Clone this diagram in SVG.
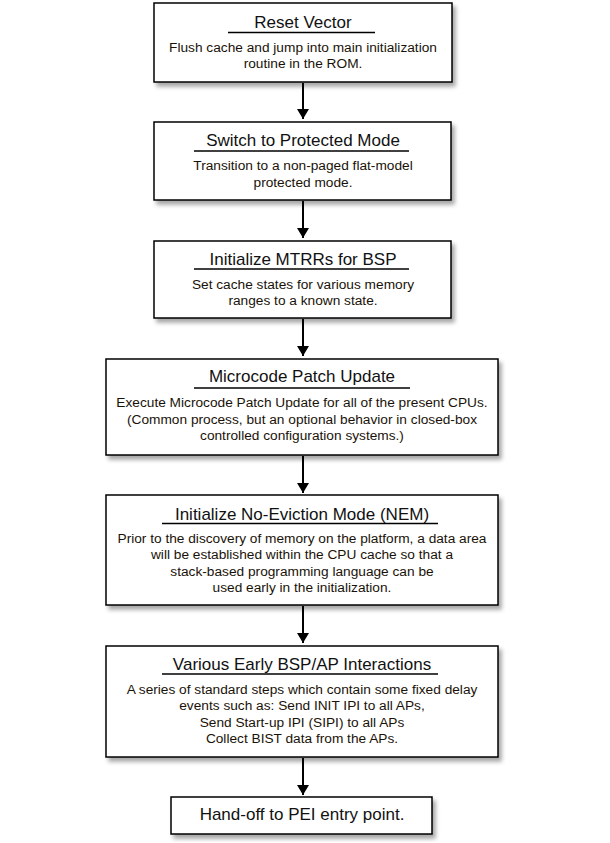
<svg xmlns="http://www.w3.org/2000/svg" width="610" height="843" viewBox="0 0 610 843">
<defs>
<filter id="sh" x="-10%" y="-20%" width="125%" height="150%">
<feDropShadow dx="3" dy="4" stdDeviation="2.2" flood-color="#000" flood-opacity="0.35"/>
</filter>
<marker id="ah" viewBox="0 0 10 12" refX="10" refY="6" markerWidth="10" markerHeight="12" markerUnits="userSpaceOnUse" orient="auto">
<path d="M0,0 L10,6 L0,12 Z" fill="#000"/>
</marker>
<style>
.box{fill:#fff;stroke:#000;stroke-width:1.5;filter:url(#sh)}
.t{font-family:"Liberation Sans",Arial,sans-serif;font-size:17px;fill:#111;text-anchor:middle}
.b{font-family:"Liberation Sans",Arial,sans-serif;font-size:13.7px;fill:#1a1208;text-anchor:middle}
.ul{stroke:#000;stroke-width:1.3}
.c{stroke:#000;stroke-width:2;fill:none;marker-end:url(#ah)}
</style>
</defs>
<rect width="610" height="843" fill="#fff"/>
<g id="connectors">
<line class="c" x1="303" y1="83" x2="303" y2="119"/>
<line class="c" x1="303" y1="201" x2="303" y2="238"/>
<line class="c" x1="303" y1="319" x2="303" y2="356"/>
<line class="c" x1="303" y1="456" x2="303" y2="493"/>
<line class="c" x1="303" y1="606" x2="303" y2="643"/>
<line class="c" x1="303" y1="758" x2="303" y2="795"/>
</g>
<g id="reset-vector">
<rect class="box" x="154" y="3" width="298" height="79"/>
<text class="t" x="303" y="28">Reset Vector</text>
<line class="ul" x1="228" y1="32.5" x2="375" y2="32.5"/>
<text class="b" x="303" y="52">Flush cache and jump into main initialization</text>
<text class="b" x="303" y="68">routine in the ROM.</text>
</g>
<g id="protected-mode">
<rect class="box" x="154" y="122" width="297" height="78"/>
<text class="t" x="303" y="146">Switch to Protected Mode</text>
<line class="ul" x1="194" y1="151" x2="409" y2="151"/>
<text class="b" x="303" y="170">Transition to a non-paged flat-model</text>
<text class="b" x="303" y="187">protected mode.</text>
</g>
<g id="mtrrs">
<rect class="box" x="154" y="241" width="297" height="77"/>
<text class="t" x="303" y="265">Initialize MTRRs for BSP</text>
<line class="ul" x1="194" y1="269" x2="409" y2="269"/>
<text class="b" x="303" y="289">Set cache states for various memory</text>
<text class="b" x="303" y="305">ranges to a known state.</text>
</g>
<g id="microcode">
<rect class="box" x="106" y="359" width="392" height="96"/>
<text class="t" x="302" y="382">Microcode Patch Update</text>
<line class="ul" x1="194" y1="388" x2="410" y2="388"/>
<text class="b" x="302" y="407">Execute Microcode Patch Update for all of the present CPUs.</text>
<text class="b" x="302" y="424">(Common process, but an optional behavior in closed-box</text>
<text class="b" x="302" y="440">controlled configuration systems.)</text>
</g>
<g id="nem">
<rect class="box" x="106" y="495" width="392" height="110"/>
<text class="t" x="302" y="520">Initialize No-Eviction Mode (NEM)</text>
<line class="ul" x1="162" y1="523.5" x2="438" y2="523.5"/>
<text class="b" x="302" y="543">Prior to the discovery of memory on the platform, a data area</text>
<text class="b" x="302" y="559">will be established within the CPU cache so that a</text>
<text class="b" x="302" y="576">stack-based programming language can be</text>
<text class="b" x="302" y="592">used early in the initialization.</text>
</g>
<g id="bsp-ap">
<rect class="box" x="106" y="646" width="392" height="111"/>
<text class="t" x="302" y="670">Various Early BSP/AP Interactions</text>
<line class="ul" x1="162" y1="674" x2="438" y2="674"/>
<text class="b" x="302" y="694">A series of standard steps which contain some fixed delay</text>
<text class="b" x="302" y="710">events such as: Send INIT IPI to all APs,</text>
<text class="b" x="302" y="727">Send Start-up IPI (SIPI) to all APs</text>
<text class="b" x="302" y="743">Collect BIST data from the APs.</text>
</g>
<g id="hand-off">
<rect class="box" x="171" y="797" width="261" height="37"/>
<text class="t" x="302" y="820">Hand-off to PEI entry point.</text>
</g>
</svg>
